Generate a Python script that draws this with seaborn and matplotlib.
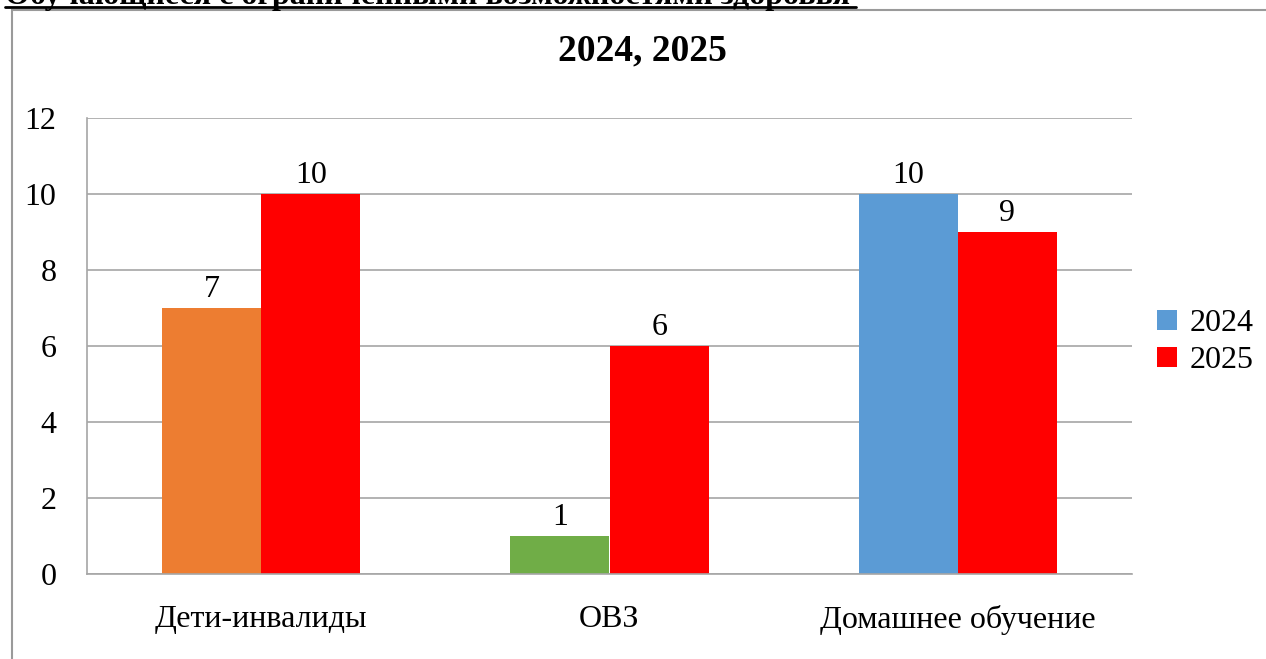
import matplotlib
matplotlib.use("Agg")
import matplotlib.pyplot as plt
import seaborn as sns
import pandas as pd
from matplotlib.patches import Patch, Rectangle
from matplotlib.lines import Line2D

categories = ["Дети-инвалиды", "ОВЗ", "Домашнее обучение"]
years = ["2024", "2025"]
values_2024 = [7, 1, 10]
values_2025 = [10, 6, 9]
point_colors_2024 = ["#ED7D31", "#70AD47", "#5B9BD5"]
series_colors = ["#5B9BD5", "#FF0000"]
yticks = [0, 2, 4, 6, 8, 10, 12]

df = pd.DataFrame({
    "cat": categories * 2,
    "year": [years[0]] * 3 + [years[1]] * 3,
    "value": values_2024 + values_2025,
})

sns.set_style("white")
plt.rcParams["font.family"] = ["Liberation Serif", "DejaVu Serif"]
plt.rcParams["text.color"] = "black"
plt.rcParams["xtick.labelcolor"] = "black"
plt.rcParams["ytick.labelcolor"] = "black"

fs = 23
grey = "#A6A6A6"

fig = plt.figure(figsize=(12.66, 6.59), dpi=100)
ax = fig.add_axes([87 / 1266, 1 - 574 / 659, (1132 - 87) / 1266, (574 - 118) / 659])

sns.barplot(data=df, x="cat", y="value", hue="year", palette=series_colors,
            width=0.57, ax=ax, legend=False, saturation=1, linewidth=0)

for patch, c in zip(ax.containers[0], point_colors_2024):
    patch.set_facecolor(c)
for cont in ax.containers:
    for patch in cont:
        patch.set_edgecolor("none")
        patch.set_linewidth(0)

for cont in ax.containers:
    ax.bar_label(cont, fmt="%g", fontsize=fs, padding=3, color="black")

ax.set_xlim(-0.5, 2.5)
ax.set_ylim(0, 12)
ax.set_yticks(yticks)
ax.set_xticks([0, 1, 2])
ax.set_xticklabels(categories)
ax.set_xticks([-0.5, 0.5, 1.5, 2.5], minor=True)
ax.tick_params(axis="x", which="major", length=0, pad=22, labelsize=fs)
ax.tick_params(axis="x", which="minor", length=7, width=1.2, color=grey, direction="out")
ax.tick_params(axis="y", length=7, width=1.2, color=grey, direction="out", pad=15, labelsize=fs)
ax.set_xlabel("")
ax.set_ylabel("")
ax.yaxis.grid(True, color=grey, lw=1.2)
ax.set_axisbelow(True)
for s in ["top", "right"]:
    ax.spines[s].set_visible(False)
for s in ["left", "bottom"]:
    ax.spines[s].set_color(grey)
    ax.spines[s].set_linewidth(1.2)

# outer chart frame
fig.patches.append(Rectangle((12 / 1266, -0.05), 1.0, 1 - 10 / 659 + 0.05,
                             transform=fig.transFigure, fill=False,
                             edgecolor="#9A9A9A", lw=1.5, clip_on=False))

fig.text(642 / 1266, 1 - 51 / 659, "2024, 2025", ha="center", va="center",
         fontsize=27, fontweight="bold")

fig.text(5 / 1266, 1 - 4 / 659, "Обучающиеся с ограниченными возможностями здоровья",
         ha="left", va="baseline", fontsize=fs, fontweight="bold")
fig.add_artist(Line2D([5 / 1266, 856 / 1266], [1 - 7 / 659, 1 - 7 / 659],
                      transform=fig.transFigure, color="black", lw=2))

handles = [Patch(facecolor=c, edgecolor="none") for c in series_colors]
fig.legend(handles, years, loc="center left", bbox_to_anchor=(1135 / 1266, 1 - 342 / 659),
           frameon=False, fontsize=fs, handlelength=0.6, handleheight=0.6,
           handletextpad=0.4, labelspacing=0.25, borderpad=0.2)

fig.savefig("out.png", dpi=100)
